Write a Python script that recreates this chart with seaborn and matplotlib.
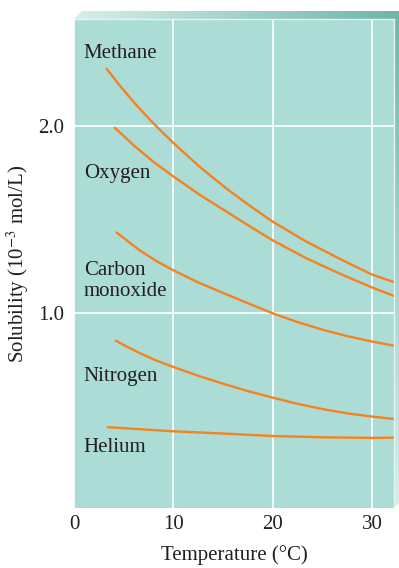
import numpy as np
import pandas as pd
import matplotlib.pyplot as plt
from matplotlib.colors import LinearSegmentedColormap
from matplotlib.patches import Polygon
import seaborn as sns

# values (temperature in degC, solubility in 1e-3 mol/L)
methane_t = [3.3, 4.7, 6.0, 7.4, 8.4, 10.0, 12.7, 15.4, 17.7, 20.0, 23.4, 26.8, 30.0, 32.2]
methane_s = [2.305, 2.210, 2.128, 2.047, 1.992, 1.909, 1.779, 1.663, 1.573, 1.488, 1.381, 1.288, 1.205, 1.165]
oxygen_t = [4.1, 6.0, 8.0, 10.0, 12.7, 15.4, 17.7, 20.0, 23.4, 26.8, 30.0, 32.2]
oxygen_s = [1.991, 1.897, 1.808, 1.730, 1.630, 1.540, 1.463, 1.388, 1.292, 1.209, 1.136, 1.091]
co_t = [4.3, 5.5, 6.7, 8.3, 10.0, 12.5, 15.1, 17.5, 20.0, 22.5, 25.1, 27.5, 30.0, 32.2]
co_s = [1.43, 1.380, 1.332, 1.277, 1.228, 1.163, 1.105, 1.052, 0.998, 0.951, 0.909, 0.876, 0.847, 0.825]
nitrogen_t = [4.2, 5.5, 6.7, 8.3, 10.0, 12.5, 15.1, 17.5, 20.0, 22.5, 25.1, 27.5, 30.0, 32.2]
nitrogen_s = [0.852, 0.815, 0.783, 0.745, 0.711, 0.664, 0.620, 0.582, 0.547, 0.514, 0.485, 0.463, 0.446, 0.433]
helium_t = [3.4, 10.0, 15.1, 20.0, 25.1, 30.0, 32.2]
helium_s = [0.389, 0.367, 0.355, 0.342, 0.335, 0.332, 0.333]

gas_labels = ["Methane", "Oxygen", "Carbon\nmonoxide", "Nitrogen", "Helium"]
label_y = [2.39, 1.745, 1.17, 0.66, 0.283]
x_ticks = [0, 10, 20, 30]
y_ticks = [1.0, 2.0]

bg = "#acdcd6"
orange = "#f58220"
ink = "#231f20"

rows = []
for name, ts, ss in [("Methane", methane_t, methane_s), ("Oxygen", oxygen_t, oxygen_s),
                     ("Carbon monoxide", co_t, co_s), ("Nitrogen", nitrogen_t, nitrogen_s),
                     ("Helium", helium_t, helium_s)]:
    for t, s in zip(ts, ss):
        rows.append({"gas": name, "temp": t, "sol": s})
df = pd.DataFrame(rows)

sns.set_theme(style="white")
plt.rcParams["font.family"] = ["Liberation Serif", "DejaVu Serif"]
plt.rcParams["mathtext.fontset"] = "stix"

W, H = 399, 568
fig = plt.figure(figsize=(W / 100, H / 100), dpi=100)

# 3D-looking rim above and right of the plot
rim = fig.add_axes([0, 0, 1, 1], zorder=0)
rim.set_xlim(0, W)
rim.set_ylim(H, 0)
rim.axis("off")
xx, yy = np.meshgrid(np.linspace(0, W, 200), np.linspace(0, H, 200))
tval = np.minimum((xx - 74) / 325, 1 - (yy - 11) / 497)
cmap = LinearSegmentedColormap.from_list("rim", ["#d8eeeb", "#6db6aa"])
img = rim.imshow(tval, extent=(0, W, H, 0), cmap=cmap, vmin=0, vmax=1, aspect="auto")
poly = Polygon([(74, 19), (82, 11), (W, 11), (W, 503), (394, 508), (394, 19)],
               closed=True, transform=rim.transData, facecolor="none", edgecolor="none")
rim.add_patch(poly)
img.set_clip_path(poly)

ax = fig.add_axes([74 / W, (H - 508) / H, (394 - 74) / W, (508 - 19) / H], zorder=1)
ax.set_facecolor(bg)

sns.lineplot(data=df, x="temp", y="sol", hue="gas", units="gas", estimator=None,
             palette={g: orange for g in df["gas"].unique()}, legend=False,
             linewidth=1.7, sort=True, ax=ax, solid_joinstyle="round")

for lab, y in zip(gas_labels, label_y):
    ax.text(0.97, y, lab, fontsize=15, color=ink, va="center", ha="left",
            linespacing=1.1)

ax.set_xlim(0, 32.2)
ax.set_ylim(-0.043, 2.572)
ax.set_xticks(x_ticks)
ax.set_yticks(y_ticks)
ax.set_xticklabels([str(v) for v in x_ticks])
ax.set_yticklabels([f"{v:.1f}" for v in y_ticks])
ax.grid(True, color="white", linewidth=1.2)
ax.set_axisbelow(True)
ax.tick_params(length=0, labelsize=15, colors=ink)
ax.tick_params(axis="x", pad=5)
ax.tick_params(axis="y", pad=7)
for side in ["left", "bottom"]:
    ax.spines[side].set_visible(False)
for side in ["top", "right"]:
    ax.spines[side].set_color("#e4f4f1")
    ax.spines[side].set_linewidth(1.0)

ax.set_xlabel("Temperature (°C)", fontsize=15, color=ink, labelpad=8)
ax.set_ylabel("Solubility (10$^{-3}$ mol/L)", fontsize=15, color=ink, labelpad=5)

fig.savefig("out.png", dpi=100, facecolor="white")
